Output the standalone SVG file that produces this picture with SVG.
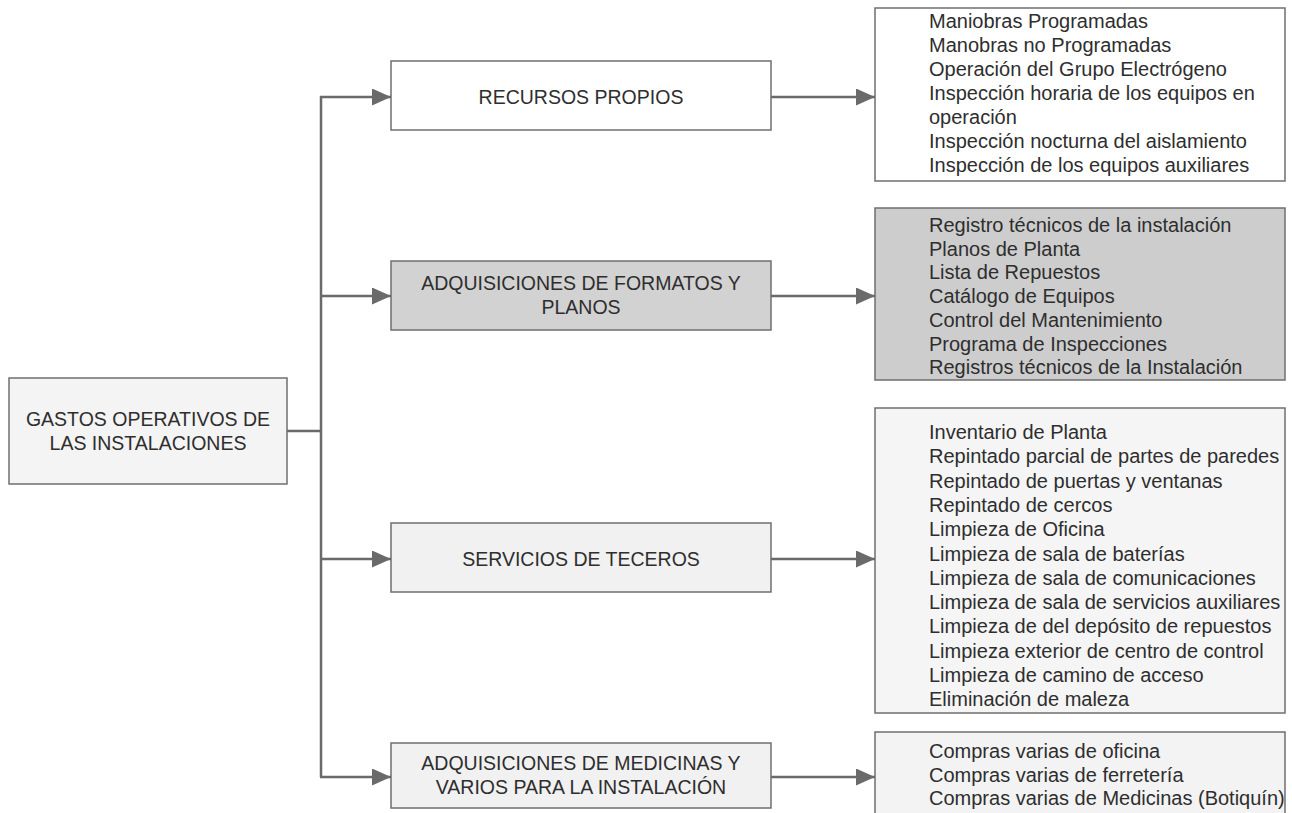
<svg xmlns="http://www.w3.org/2000/svg" width="1292" height="813" viewBox="0 0 1292 813">
<defs>
<marker id="arr" markerUnits="userSpaceOnUse" markerWidth="19" markerHeight="17" refX="19" refY="8.5" orient="auto">
<path d="M0,0 L19,8.5 L0,17 Z" fill="#6a6a6a"/>
</marker>
</defs>
<style>
.box{stroke:#6f6f6f;stroke-width:1.5}
.t{font-family:"Liberation Sans",Arial,sans-serif;font-size:20px;fill:#2e2e2e}
.m{font-size:19.5px}
.c{text-anchor:middle}
.con{fill:none;stroke:#6a6a6a;stroke-width:2.5}
</style>
<rect width="1292" height="813" fill="#ffffff"/>
<g id="root">
<rect class="box" x="9" y="378" width="278" height="106" fill="#f4f4f4"/>
<text class="t m c" x="148" y="426">GASTOS OPERATIVOS DE</text>
<text class="t m c" x="148" y="450">LAS INSTALACIONES</text>
</g>
<g id="recursos">
<rect class="box" x="391" y="61" width="380" height="69" fill="#ffffff"/>
<text class="t m c" x="581" y="104">RECURSOS PROPIOS</text>
</g>
<g id="formatos">
<rect class="box" x="391" y="261" width="380" height="69" fill="#d2d2d2"/>
<text class="t m c" x="581" y="290">ADQUISICIONES DE FORMATOS Y</text>
<text class="t m c" x="581" y="314">PLANOS</text>
</g>
<g id="servicios">
<rect class="box" x="391" y="523" width="380" height="69" fill="#f1f1f1"/>
<text class="t m c" x="581" y="566">SERVICIOS DE TECEROS</text>
</g>
<g id="medicinas">
<rect class="box" x="391" y="743" width="380" height="65" fill="#f1f1f1"/>
<text class="t m c" x="581" y="770">ADQUISICIONES DE MEDICINAS Y</text>
<text class="t m c" x="581" y="794">VARIOS PARA LA INSTALACIÓN</text>
</g>
<g id="list1">
<rect class="box" x="875" y="8" width="410" height="173" fill="#ffffff"/>
<text class="t" x="929" y="28">
<tspan x="929">Maniobras Programadas</tspan>
<tspan x="929" dy="24">Manobras no Programadas</tspan>
<tspan x="929" dy="24">Operación del Grupo Electrógeno</tspan>
<tspan x="929" dy="24">Inspección horaria de los equipos en</tspan>
<tspan x="929" dy="24">operación</tspan>
<tspan x="929" dy="24">Inspección nocturna del aislamiento</tspan>
<tspan x="929" dy="24">Inspección de los equipos auxiliares</tspan>
</text>
</g>
<g id="list2">
<rect class="box" x="875" y="208" width="410" height="172" fill="#cdcdcd"/>
<text class="t" x="929" y="232">
<tspan x="929">Registro técnicos de la instalación</tspan>
<tspan x="929" dy="23.7">Planos de Planta</tspan>
<tspan x="929" dy="23.7">Lista de Repuestos</tspan>
<tspan x="929" dy="23.7">Catálogo de Equipos</tspan>
<tspan x="929" dy="23.7">Control del Mantenimiento</tspan>
<tspan x="929" dy="23.7">Programa de Inspecciones</tspan>
<tspan x="929" dy="23.7">Registros técnicos de la Instalación</tspan>
</text>
</g>
<g id="list3">
<rect class="box" x="875" y="408" width="410" height="305" fill="#f5f5f5"/>
<text class="t" x="929" y="439">
<tspan x="929">Inventario de Planta</tspan>
<tspan x="929" dy="24.3">Repintado parcial de partes de paredes</tspan>
<tspan x="929" dy="24.3">Repintado de puertas y ventanas</tspan>
<tspan x="929" dy="24.3">Repintado de cercos</tspan>
<tspan x="929" dy="24.3">Limpieza de Oficina</tspan>
<tspan x="929" dy="24.3">Limpieza de sala de baterías</tspan>
<tspan x="929" dy="24.3">Limpieza de sala de comunicaciones</tspan>
<tspan x="929" dy="24.3">Limpieza de sala de servicios auxiliares</tspan>
<tspan x="929" dy="24.3">Limpieza de del depósito de repuestos</tspan>
<tspan x="929" dy="24.3">Limpieza exterior de centro de control</tspan>
<tspan x="929" dy="24.3">Limpieza de camino de acceso</tspan>
<tspan x="929" dy="24.3">Eliminación de maleza</tspan>
</text>
</g>
<g id="list4">
<rect class="box" x="875" y="732" width="410" height="90" fill="#f3f3f3"/>
<text class="t" x="929" y="758">
<tspan x="929">Compras varias de oficina</tspan>
<tspan x="929" dy="23.7">Compras varias de ferretería</tspan>
<tspan x="929" dy="23.7">Compras varias de Medicinas (Botiquín)</tspan>
</text>
</g>
<g id="connectors">
<path class="con" d="M287,431 H321"/>
<path class="con" d="M321,96 V777"/>
<path class="con" d="M320,97 H391" marker-end="url(#arr)"/>
<path class="con" d="M321,296 H391" marker-end="url(#arr)"/>
<path class="con" d="M321,559 H391" marker-end="url(#arr)"/>
<path class="con" d="M320,777 H391" marker-end="url(#arr)"/>
<path class="con" d="M771,97 H875" marker-end="url(#arr)"/>
<path class="con" d="M771,296 H875" marker-end="url(#arr)"/>
<path class="con" d="M771,559 H875" marker-end="url(#arr)"/>
<path class="con" d="M771,777 H875" marker-end="url(#arr)"/>
</g>
</svg>
